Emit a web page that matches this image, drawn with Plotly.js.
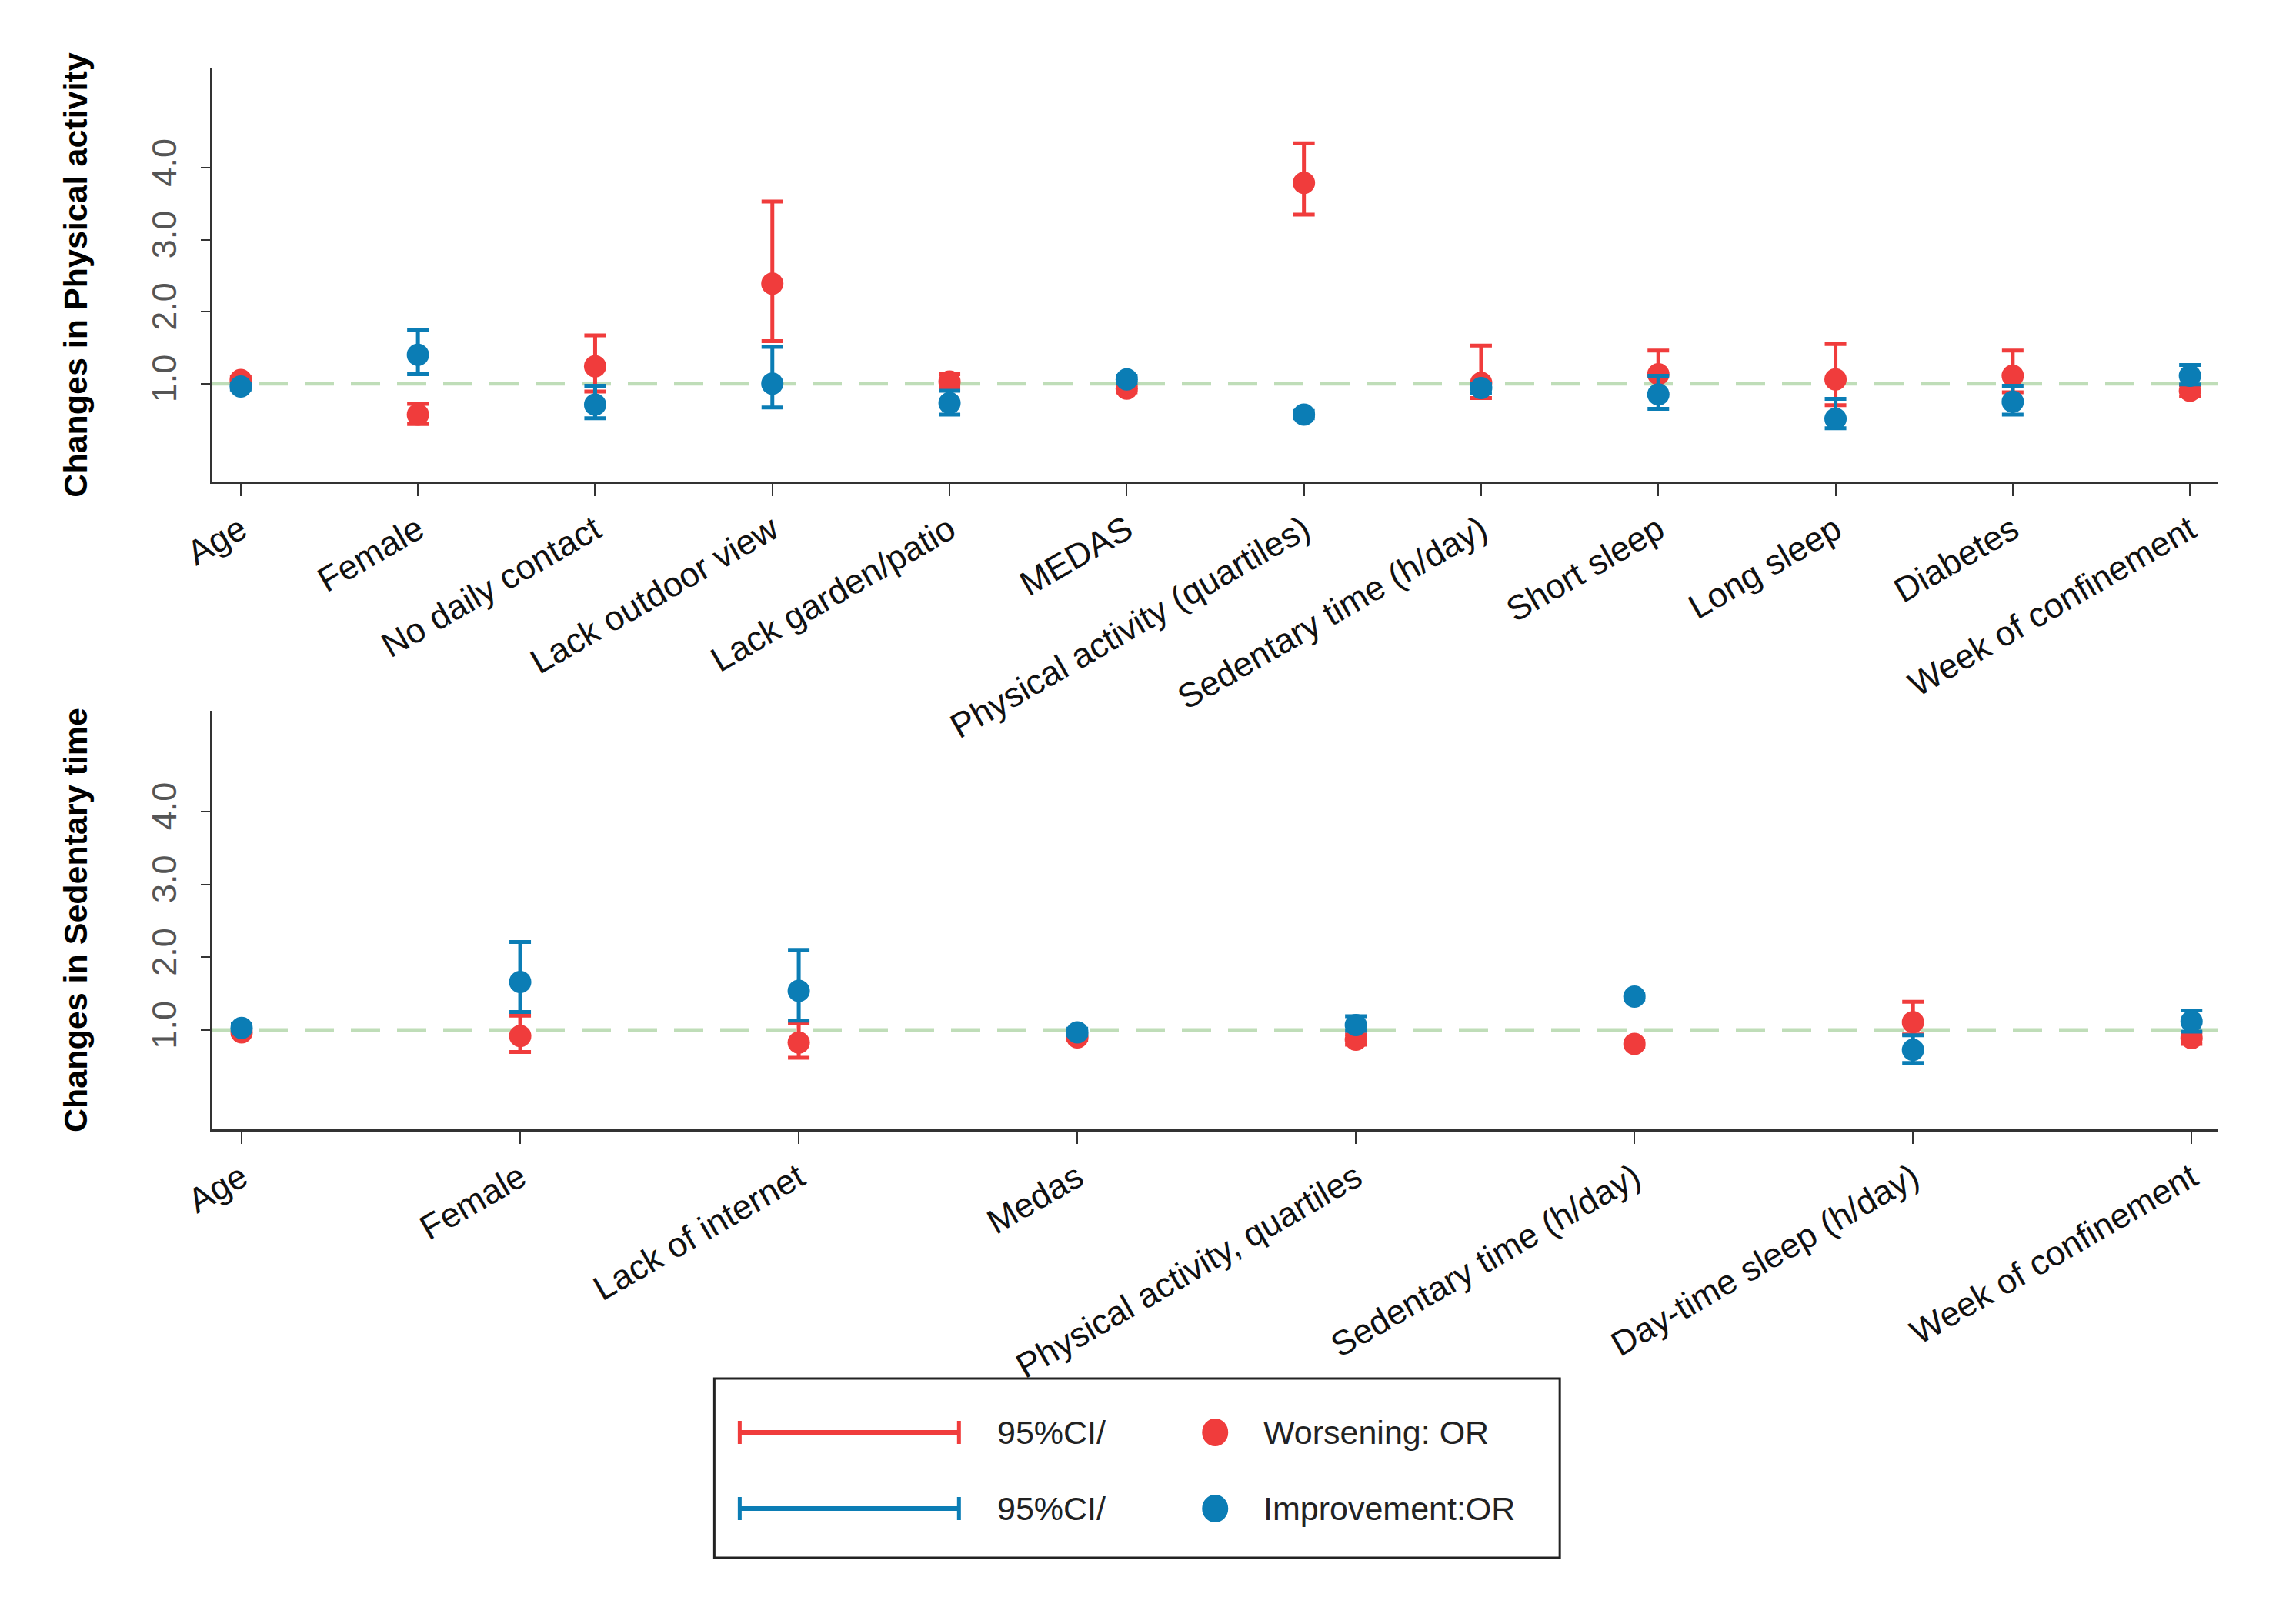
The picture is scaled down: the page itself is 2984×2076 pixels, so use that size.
<!DOCTYPE html>
<html>
<head>
<meta charset="utf-8">
<script src="https://cdn.plot.ly/plotly-3.0.1.min.js"></script>
<style>html,body{margin:0;padding:0;background:#fff;}#chart{width:2984px;height:2076px;}</style>
</head>
<body>
<div id="chart"></div>
<script>
// ---------- DATA ----------
const paCategories = ["Age","Female","No daily contact","Lack outdoor view","Lack garden/patio","MEDAS","Physical activity (quartiles)","Sedentary time (h/day)","Short sleep","Long sleep","Diabetes","Week of confinement"];
const paWorseOR = [1.05, 0.57, 1.24, 2.39, 1.03, 0.93, 3.79, 1.01, 1.13, 1.06, 1.11, 0.90];
const paWorseLo = [1.01, 0.44, 0.89, 1.59, 0.95, 0.88, 3.35, 0.80, 0.86, 0.70, 0.88, 0.82];
const paWorseHi = [1.09, 0.72, 1.67, 3.53, 1.13, 0.98, 4.34, 1.53, 1.46, 1.55, 1.46, 0.98];
const paImprOR  = [0.96, 1.40, 0.71, 1.00, 0.73, 1.06, 0.57, 0.94, 0.85, 0.51, 0.75, 1.11];
const paImprLo  = [0.92, 1.13, 0.52, 0.67, 0.57, 1.01, 0.52, 0.87, 0.65, 0.38, 0.57, 0.99];
const paImprHi  = [1.00, 1.75, 0.97, 1.51, 0.90, 1.11, 0.62, 1.00, 1.11, 0.79, 0.97, 1.26];

const stCategories = ["Age","Female","Lack of internet","Medas","Physical activity, quartiles","Sedentary time (h/day)","Day-time sleep (h/day)","Week of confinement"];
const stWorseOR = [0.97, 0.92, 0.83, 0.90, 0.87, 0.81, 1.11, 0.89];
const stWorseLo = [0.94, 0.70, 0.62, 0.86, 0.80, 0.77, 0.94, 0.81];
const stWorseHi = [1.00, 1.20, 1.10, 0.94, 0.94, 0.85, 1.39, 0.96];
const stImprOR  = [1.03, 1.66, 1.54, 0.97, 1.07, 1.46, 0.73, 1.12];
const stImprLo  = [0.99, 1.25, 1.13, 0.93, 0.99, 1.42, 0.55, 0.98];
const stImprHi  = [1.08, 2.21, 2.10, 1.02, 1.19, 1.50, 0.93, 1.27];

const yTickVals = [1, 2, 3, 4];
const yTickText = ["1.0", "2.0", "3.0", "4.0"];
const refValue = 1;
const legendLabels = ["95%CI/", "Worsening: OR", "95%CI/", "Improvement:OR"];

// ---------- STYLE ----------
const RED = "#f03c3c";
const BLUE = "#0b7db5";
const GREEN = "#bfddb8";
const AX = "#333333";
const FONT = "Liberation Sans, Arial, sans-serif";

function trace(cats, or, lo, hi, color, xa, ya, name) {
  return {
    type: "scatter", mode: "markers", name: name, showlegend: false,
    x: cats, y: or, xaxis: xa, yaxis: ya,
    marker: {color: color, size: 29},
    error_y: {type: "data", symmetric: false,
      array: hi.map((h, i) => h - or[i]),
      arrayminus: or.map((v, i) => v - lo[i]),
      color: color, thickness: 5, width: 14}
  };
}

const data = [
  trace(paCategories, paWorseOR, paWorseLo, paWorseHi, RED, "x", "y", "Worsening: OR"),
  trace(paCategories, paImprOR, paImprLo, paImprHi, BLUE, "x", "y", "Improvement:OR"),
  trace(stCategories, stWorseOR, stWorseLo, stWorseHi, RED, "x2", "y2", "Worsening: OR"),
  trace(stCategories, stImprOR, stImprLo, stImprHi, BLUE, "x2", "y2", "Improvement:OR")
];

// figure geometry (pixels)
const W = 2984, H = 2076;
const L = 275.5, R = 2883, T = 89, B = 1468;
const PX = px => (px - L) / (R - L);
const PY = py => (B - py) / (B - T);

function xAxis(range) {
  return {
    type: "category", range: range, domain: [0, 1],
    showline: true, linecolor: AX, linewidth: 3, showgrid: false, zeroline: false,
    ticks: "outside", ticklen: 16, tickwidth: 2, tickcolor: AX,
    tickangle: -30, tickfont: {family: FONT, size: 45, color: "#111"},
    automargin: false, fixedrange: true
  };
}
function yAxis(domain, title) {
  return {
    domain: domain, range: [-0.36, 5.38],
    showline: true, linecolor: AX, linewidth: 3, showgrid: false, zeroline: false,
    ticks: "outside", ticklen: 12, tickwidth: 2, tickcolor: AX,
    tickvals: yTickVals, ticktext: yTickText, tickangle: -90, ticklabelstandoff: 14,
    tickfont: {family: FONT, size: 45, color: "#555"},
    title: {text: title, font: {family: FONT, size: 43, color: "#000", weight: "bold"}, standoff: 61},
    automargin: false, fixedrange: true
  };
}

const xa1 = xAxis([-0.16, 11.16]);
const xa2 = xAxis([-0.105, 7.096]); xa2.anchor = "y2";
const ya1 = yAxis([PY(626), 1], "Changes in Physical activity");
const ya2 = yAxis([0, PY(924)], "Changes in Sedentary time"); ya2.anchor = "x2";

const shapes = [
  {type: "line", xref: "x domain", yref: "y", x0: 0, x1: 1, y0: refValue, y1: refValue,
   line: {color: GREEN, width: 5, dash: "38px,22px"}, layer: "below"},
  {type: "line", xref: "x2 domain", yref: "y2", x0: 0, x1: 1, y0: refValue, y1: refValue,
   line: {color: GREEN, width: 5, dash: "38px,22px"}, layer: "below"},
  // legend box
  {type: "rect", xref: "paper", yref: "paper", x0: PX(928), x1: PX(2027), y0: PY(1792), y1: PY(2025),
   line: {color: "#222", width: 3}, fillcolor: "rgba(0,0,0,0)"}
];
const annotations = [];
const rows = [{y: 1862, c: RED}, {y: 1961, c: BLUE}];
rows.forEach((r, i) => {
  shapes.push({type: "line", xref: "paper", yref: "paper", x0: PX(960), x1: PX(1247), y0: PY(r.y), y1: PY(r.y), line: {color: r.c, width: 6}});
  shapes.push({type: "line", xref: "paper", yref: "paper", x0: PX(961), x1: PX(961), y0: PY(r.y - 15), y1: PY(r.y + 15), line: {color: r.c, width: 5}});
  shapes.push({type: "line", xref: "paper", yref: "paper", x0: PX(1246), x1: PX(1246), y0: PY(r.y - 15), y1: PY(r.y + 15), line: {color: r.c, width: 5}});
  shapes.push({type: "circle", xref: "paper", yref: "paper", x0: PX(1562), x1: PX(1596), y0: PY(r.y - 18), y1: PY(r.y + 18), line: {width: 0}, fillcolor: r.c});
  annotations.push({xref: "paper", yref: "paper", x: PX(1294), y: PY(r.y), xanchor: "left", yanchor: "middle", showarrow: false,
    text: legendLabels[i * 2], font: {family: FONT, size: 43, color: "#222"}});
  annotations.push({xref: "paper", yref: "paper", x: PX(1640), y: PY(r.y), xanchor: "left", yanchor: "middle", showarrow: false,
    text: legendLabels[i * 2 + 1], font: {family: FONT, size: 43, color: "#222"}});
});

const layout = {
  width: W, height: H,
  margin: {l: L, r: W - R, t: T, b: H - B, pad: 0},
  paper_bgcolor: "#fff", plot_bgcolor: "#fff",
  showlegend: false,
  xaxis: xa1, yaxis: ya1, xaxis2: xa2, yaxis2: ya2,
  shapes: shapes, annotations: annotations,
  font: {family: FONT}
};

Plotly.newPlot("chart", data, layout, {displayModeBar: false, staticPlot: true});
</script>
</body>
</html>
